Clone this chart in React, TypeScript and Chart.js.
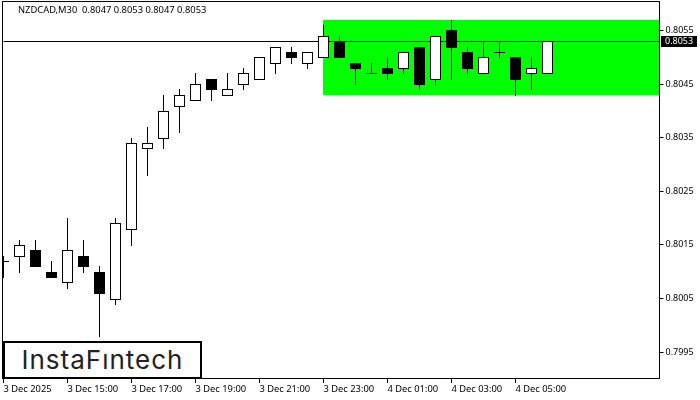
import { useEffect, useRef } from "react"
import { Chart, registerables } from "chart.js"

Chart.register(...registerables)

const opens = [0.8012, 0.8013, 0.8014, 0.8010, 0.8008, 0.8013, 0.8010, 0.8005, 0.8018, 0.8033, 0.8035, 0.8041, 0.8042, 0.8046, 0.8043, 0.8045, 0.8046, 0.8049, 0.8051, 0.8049, 0.8050, 0.8053, 0.8049, 0.8047, 0.8048, 0.8048, 0.8052, 0.8046, 0.8055, 0.8051, 0.8047, 0.8051, 0.8050, 0.8047, 0.8047]
const highs = [0.8013, 0.8016, 0.8016, 0.8012, 0.8020, 0.8016, 0.8011, 0.8020, 0.8035, 0.8037, 0.8043, 0.8044, 0.8047, 0.8046, 0.8047, 0.8048, 0.8050, 0.8052, 0.8052, 0.8051, 0.8056, 0.8054, 0.8049, 0.8049, 0.8050, 0.8051, 0.8052, 0.8054, 0.8057, 0.8052, 0.8053, 0.8053, 0.8050, 0.8050, 0.8053]
const lows = [0.8009, 0.8010, 0.8011, 0.8009, 0.8007, 0.8010, 0.7998, 0.8004, 0.8015, 0.8028, 0.8033, 0.8036, 0.8042, 0.8042, 0.8043, 0.8044, 0.8046, 0.8047, 0.8049, 0.8048, 0.8050, 0.8050, 0.8045, 0.8047, 0.8046, 0.8047, 0.8044, 0.8045, 0.8046, 0.8047, 0.8047, 0.8050, 0.8043, 0.8044, 0.8047]
const closes = [0.8012, 0.8015, 0.8011, 0.8009, 0.8014, 0.8011, 0.8006, 0.8019, 0.8034, 0.8034, 0.8040, 0.8043, 0.8045, 0.8044, 0.8044, 0.8047, 0.8050, 0.8052, 0.8050, 0.8051, 0.8054, 0.8050, 0.8048, 0.8047, 0.8047, 0.8051, 0.8045, 0.8054, 0.8052, 0.8048, 0.8050, 0.8051, 0.8046, 0.8048, 0.8053]

const timeLabels = ["3 Dec 2025", "3 Dec 15:00", "3 Dec 17:00", "3 Dec 19:00", "3 Dec 21:00", "3 Dec 23:00", "4 Dec 01:00", "4 Dec 03:00", "4 Dec 05:00"]
const barsPerLabel = 4
const priceTicks = [0.7995, 0.8005, 0.8015, 0.8025, 0.8035, 0.8045, 0.8055]

const lastPrice = 0.8053
const zoneStart = 20
const zoneHigh = 0.8057
const zoneLow = 0.8043

const headline = "NZDCAD,M30  0.8047 0.8053 0.8047 0.8053"
const axisFont = "'Noto Sans'"

// MT4 draws on whole pixels, so snap the bars vertically after layout
const snapBars = {
  id: "snapBars",
  afterDatasetsUpdate(chart: Chart) {
    chart.data.datasets.forEach((_, i) => {
      chart.getDatasetMeta(i).data.forEach((el: any) => {
        const top = Math.round(Math.min(el.y, el.base))
        const bottom = Math.round(Math.max(el.y, el.base)) + 1
        el.y = top
        el.base = bottom
        el.height = bottom - top
      })
    })
  },
}

const zoneAndPrice = {
  id: "zoneAndPrice",
  beforeDatasetsDraw(chart: Chart) {
    const { ctx, chartArea, scales } = chart
    const left = Math.floor(scales.x.getPixelForValue(zoneStart))
    const top = Math.round(scales.y.getPixelForValue(zoneHigh))
    const bottom = Math.round(scales.y.getPixelForValue(zoneLow))
    const lineY = Math.round(scales.y.getPixelForValue(lastPrice))
    ctx.save()
    ctx.fillStyle = "#00ff00"
    ctx.fillRect(left, top, Math.ceil(chartArea.right) - left, bottom - top)
    ctx.fillStyle = "#000000"
    ctx.fillRect(chartArea.left, lineY, chartArea.width, 1)
    ctx.restore()
  },
  afterDraw(chart: Chart) {
    const { ctx, scales } = chart
    const lineY = Math.round(scales.y.getPixelForValue(lastPrice))
    ctx.save()
    // plot frame
    ctx.strokeStyle = "#000000"
    ctx.lineWidth = 1
    ctx.strokeRect(2.5, 1.5, 657, 377)
    // last price tag
    ctx.fillStyle = "#000000"
    ctx.fillRect(661, lineY - 5, 36, 11)
    ctx.fillStyle = "#ffffff"
    ctx.font = `9px ${axisFont}`
    ctx.textBaseline = "middle"
    ctx.fillText(lastPrice.toFixed(4), 665, lineY + 0.5)
    // symbol line
    ctx.fillStyle = "#000000"
    ctx.textBaseline = "alphabetic"
    ctx.font = `9.35px ${axisFont}`
    ctx.fillText(headline, 18, 13)
    ctx.restore()
  },
}

export default function App() {
  const chartRef = useRef<HTMLCanvasElement>(null)

  useEffect(() => {
    if (!chartRef.current) return

    const chart = new Chart(chartRef.current, {
      type: "bar",
      data: {
        datasets: [
          {
            label: "Body",
            data: opens.map((o, i) => ({ x: i, y: [o, closes[i]] })) as any,
            backgroundColor: opens.map((o, i) => (closes[i] > o ? "#ffffff" : "#000000")),
            borderColor: "#000000",
            borderWidth: 1,
            borderSkipped: false,
            barThickness: 11,
            inflateAmount: 0,
            grouped: false,
            clip: 0.5,
            order: 1,
          },
          {
            label: "Wick",
            data: lows.map((l, i) => ({ x: i, y: [l, highs[i]] })) as any,
            backgroundColor: "#000000",
            borderWidth: 0,
            barThickness: 1,
            inflateAmount: 0,
            grouped: false,
            clip: 0.5,
            order: 2,
          },
        ],
      },
      options: {
        responsive: false,
        animation: false,
        devicePixelRatio: 1,
        layout: { autoPadding: false, padding: { left: 3.5, top: 2, right: 0, bottom: 0 } },
        plugins: {
          legend: { display: false },
          title: { display: false },
          tooltip: { enabled: false },
        },
        scales: {
          x: {
            type: "linear",
            offset: false,
            min: 0,
            max: 41,
            border: { display: false },
            grid: { offset: false, drawOnChartArea: false, tickLength: 4, tickColor: "#000000" },
            afterBuildTicks: (scale: any) => {
              scale.ticks = timeLabels.map((_, i) => ({ value: i * barsPerLabel }))
            },
            afterFit: (scale: any) => {
              scale.height = 21
              scale.paddingLeft = 0
              scale.paddingRight = 0
            },
            ticks: {
              autoSkip: false,
              maxRotation: 0,
              align: "start",
              padding: 1,
              color: "#000000",
              font: { family: axisFont, size: 9.35 },
              callback: (value: any) => timeLabels[Number(value) / barsPerLabel],
            },
          },
          y: {
            position: "right",
            min: 0.799,
            max: 0.80603,
            border: { display: false },
            grid: { drawOnChartArea: false, tickLength: 4, tickColor: "#000000" },
            afterBuildTicks: (scale: any) => {
              scale.ticks = priceTicks.map((value) => ({ value }))
            },
            afterFit: (scale: any) => {
              scale.width = 40.5
              scale.paddingTop = 0
              scale.paddingBottom = 0
            },
            ticks: {
              padding: 2,
              color: "#000000",
              font: { family: axisFont, size: 9 },
              callback: (value: any) => Number(value).toFixed(4),
            },
          },
        },
      },
      plugins: [snapBars, zoneAndPrice],
    })

    return () => chart.destroy()
  }, [])

  return (
    <div style={{ position: "fixed", left: 0, top: 0, width: 700, height: 400, background: "#ffffff", overflow: "hidden" }}>
      <canvas ref={chartRef} width={700} height={400} style={{ display: "block" }} />
      <div
        style={{
          position: "absolute",
          left: 3,
          top: 341,
          width: 195,
          height: 34,
          border: "2px solid #000000",
          background: "#ffffff",
          color: "#222222",
          fontFamily: "Inter",
          fontWeight: 400,
          fontSize: 26,
          letterSpacing: 1,
          lineHeight: "34px",
          textAlign: "center",
        }}
      >
        InstaFıntech
      </div>
    </div>
  )
}
